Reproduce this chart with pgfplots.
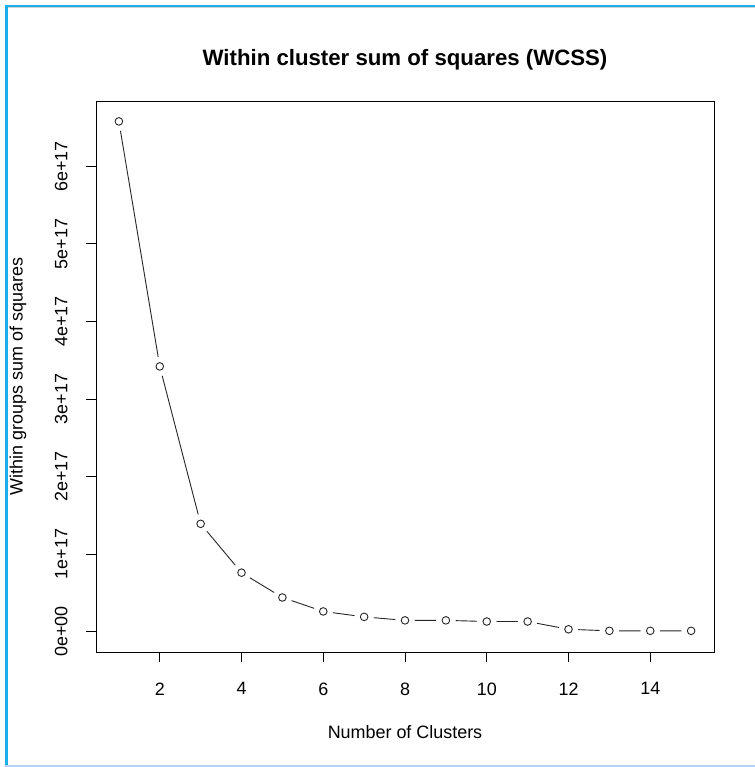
\documentclass[border=0pt]{standalone}
\usepackage{pgfplots}
\pgfplotsset{compat=1.18}
\usepackage{fontspec}
\setmainfont{Liberation Sans}
\definecolor{frameblue}{HTML}{1AAEEA}
\definecolor{framelight}{HTML}{B4D3F0}
\begin{document}
\begin{tikzpicture}[x=1bp,y=1bp]
\useasboundingbox (0,0) rectangle (755,767);
\fill[white] (0,0) rectangle (755,767);
% frame
\fill[frameblue] (5,0) rectangle (7.5,762);
\fill[frameblue] (5,759.5) rectangle (755,762);
\fill[black!18] (7.5,758.5) rectangle (755,759.5);
\fill[framelight] (5,0) rectangle (755,2);
\begin{axis}[
  at={(96bp,115bp)}, anchor=south west,
  scale only axis, width=618bp, height=551bp,
  xmin=0.44, xmax=15.56,
  ymin=-0.263e17, ymax=6.843e17,
  axis line style={line width=0.9bp},
  xtick={2,4,6,8,10,12,14},
  ytick={0,1e17,2e17,3e17,4e17,5e17,6e17},
  yticklabels={0e+00,1e+17,2e+17,3e+17,4e+17,5e+17,6e+17},
  scaled y ticks=false,
  tick align=outside,
  major tick length=10bp,
  tick style={line width=0.9bp,black},
  xtick pos=bottom, ytick pos=left,
  tick label style={font=\fontsize{18}{21}\selectfont},
  /pgf/number format/assume math mode=true,
  yticklabel style={xshift=-15bp, rotate=90, anchor=south},
  xticklabel style={yshift=-17bp},
  ylabel={Within groups sum of squares},
  ylabel style={font=\fontsize{18}{21}\selectfont, at={(0,0.5)}, yshift=78bp, anchor=center},
  xlabel={Number of Clusters},
  xlabel style={font=\fontsize{18}{21}\selectfont, at={(0.5,0)}, yshift=-80bp, anchor=center},
  title={Within cluster sum of squares (WCSS)},
  title style={font=\bfseries\fontsize{22.3}{26}\selectfont, at={(0.5,1)}, yshift=35bp, anchor=center},
  clip=false,
]
\addplot[black!85, line width=0.9bp, mark=none] coordinates {
(1,6.58e17) (2,3.42e17) (3,1.39e17) (4,0.76e17) (5,0.44e17) (6,0.26e17) (7,0.19e17) (8,0.145e17) (9,0.145e17) (10,0.13e17) (11,0.13e17) (12,0.03e17) (13,0.01e17) (14,0.01e17) (15,0.01e17)
};
\addplot[white, only marks, mark=*, mark size=9.5bp, mark options={draw=white, fill=white}] coordinates {
(1,6.58e17) (2,3.42e17) (3,1.39e17) (4,0.76e17) (5,0.44e17) (6,0.26e17) (7,0.19e17) (8,0.145e17) (9,0.145e17) (10,0.13e17) (11,0.13e17) (12,0.03e17) (13,0.01e17) (14,0.01e17) (15,0.01e17)
};
\addplot[black!85, only marks, mark=o, mark size=3.8bp, mark options={draw=black!85, line width=0.9bp, fill=white}] coordinates {
(1,6.58e17) (2,3.42e17) (3,1.39e17) (4,0.76e17) (5,0.44e17) (6,0.26e17) (7,0.19e17) (8,0.145e17) (9,0.145e17) (10,0.13e17) (11,0.13e17) (12,0.03e17) (13,0.01e17) (14,0.01e17) (15,0.01e17)
};
\end{axis}
\end{tikzpicture}
\end{document}
